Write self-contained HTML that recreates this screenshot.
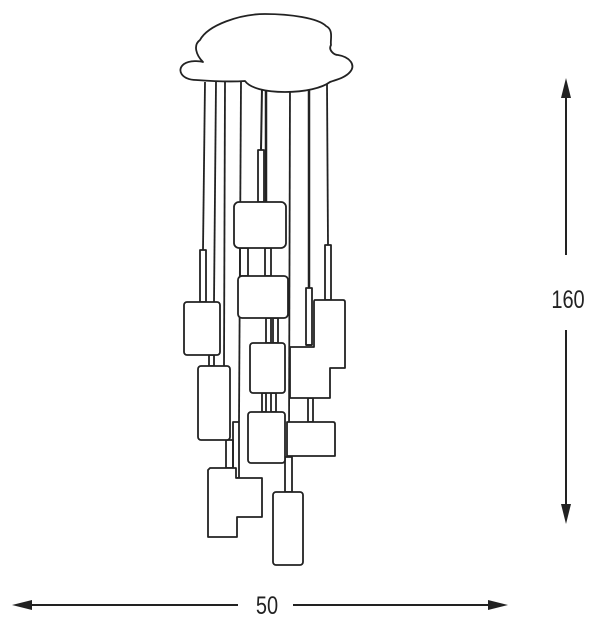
<!DOCTYPE html>
<html><head><style>
html,body{margin:0;padding:0;background:#fff;}
svg{display:block;}
</style></head><body>
<svg width="600" height="628" viewBox="0 0 600 628" xmlns="http://www.w3.org/2000/svg">
<g fill="none" stroke="#222" stroke-width="1.8" stroke-linejoin="round">
<!-- wires -->
<line x1="205" y1="82" x2="203" y2="250"/>
<line x1="216" y1="82" x2="214" y2="302"/>
<line x1="225" y1="82" x2="224" y2="366"/>
<line x1="241" y1="82" x2="239" y2="422"/>
<line x1="262" y1="88" x2="261" y2="150" stroke-width="2"/>
<line x1="266" y1="88" x2="266" y2="202" stroke-width="2.5"/>
<line x1="290" y1="88" x2="289" y2="437"/>
<line x1="309" y1="84" x2="309" y2="288" stroke-width="2.5"/>
<line x1="327" y1="84" x2="328" y2="245"/>
<!-- cloud -->
<path fill="#fff" d="M196 80 C182 80 176 70 184 64 C190 60 200 61 203 62 C196 55 193 45 200 40 C208 25 240 14 265 14 C290 14 318 18 326 26 C334 30 330 40 331 45 C328 50 334 55 338 55 C350 57 356 65 350 72 C345 78 335 80 330 82 C322 88 305 92 285 92 C265 92 250 88 245 81 C230 82 210 81 196 80 Z"/>
<!-- stems -->
<rect x="258" y="150" width="6" height="52"/>
<rect x="200" y="250" width="6" height="52"/>
<rect x="325" y="245" width="6" height="55"/>
<rect x="306" y="288" width="6" height="57"/>
<rect x="240" y="248" width="8" height="28"/>
<rect x="265" y="248" width="6" height="28"/>
<rect x="266" y="318" width="5" height="25"/>
<rect x="273" y="318" width="5" height="25"/>
<rect x="262" y="393" width="4" height="19"/>
<rect x="271" y="393" width="5" height="19"/>
<rect x="209" y="355" width="5" height="11"/>
<rect x="226" y="440" width="7" height="28"/>
<rect x="233" y="422" width="6" height="56"/>
<rect x="285" y="457" width="7" height="35"/>
<rect x="308" y="398" width="5" height="24"/>
<!-- lamps -->
<rect x="234" y="202" width="52" height="46" rx="5" fill="#fff"/>
<rect x="238" y="276" width="50" height="42" rx="4" fill="#fff"/>
<rect x="250" y="343" width="35" height="50" rx="3" fill="#fff"/>
<rect x="248" y="412" width="37" height="51" rx="3" fill="#fff"/>
<rect x="184" y="302" width="36" height="53" rx="3" fill="#fff"/>
<rect x="198" y="366" width="32" height="74" rx="3" fill="#fff"/>
<path fill="#fff" d="M210 468 H236 V478 H262 V517 H237 V537 H208 V470 Z"/>
<rect x="273" y="492" width="30" height="73" rx="3" fill="#fff"/>
<path fill="#fff" d="M287 422 H333 Q335 422 335 424 V456 H287 Z"/>
<path fill="#fff" d="M315 300 H343 Q345 300 345 302 V368 H330 V398 H290 V347 H314 V302 Q314 300 315 300 Z"/>
<line x1="306" y1="345" x2="312" y2="345"/>
</g>
<!-- dimensions -->
<g stroke="#222" stroke-width="2" fill="#222">
<line x1="566" y1="88" x2="566" y2="255"/>
<line x1="566" y1="330" x2="566" y2="514"/>
<polygon points="566,78 561,98 571,98" stroke="none"/>
<polygon points="566,524 561,504 571,504" stroke="none"/>
<line x1="20" y1="605" x2="238" y2="605"/>
<line x1="293" y1="605" x2="498" y2="605"/>
<polygon points="12,605 32,600 32,610" stroke="none"/>
<polygon points="508,605 488,600 488,610" stroke="none"/>
</g>
<g font-family="Liberation Sans, sans-serif" font-size="25" fill="#222">
<text x="568" y="308" text-anchor="middle" transform="translate(568 0) scale(0.8 1) translate(-568 0)">160</text>
<text x="267" y="614" text-anchor="middle" transform="translate(267 0) scale(0.8 1) translate(-267 0)">50</text>
</g>
</svg>
</body></html>
